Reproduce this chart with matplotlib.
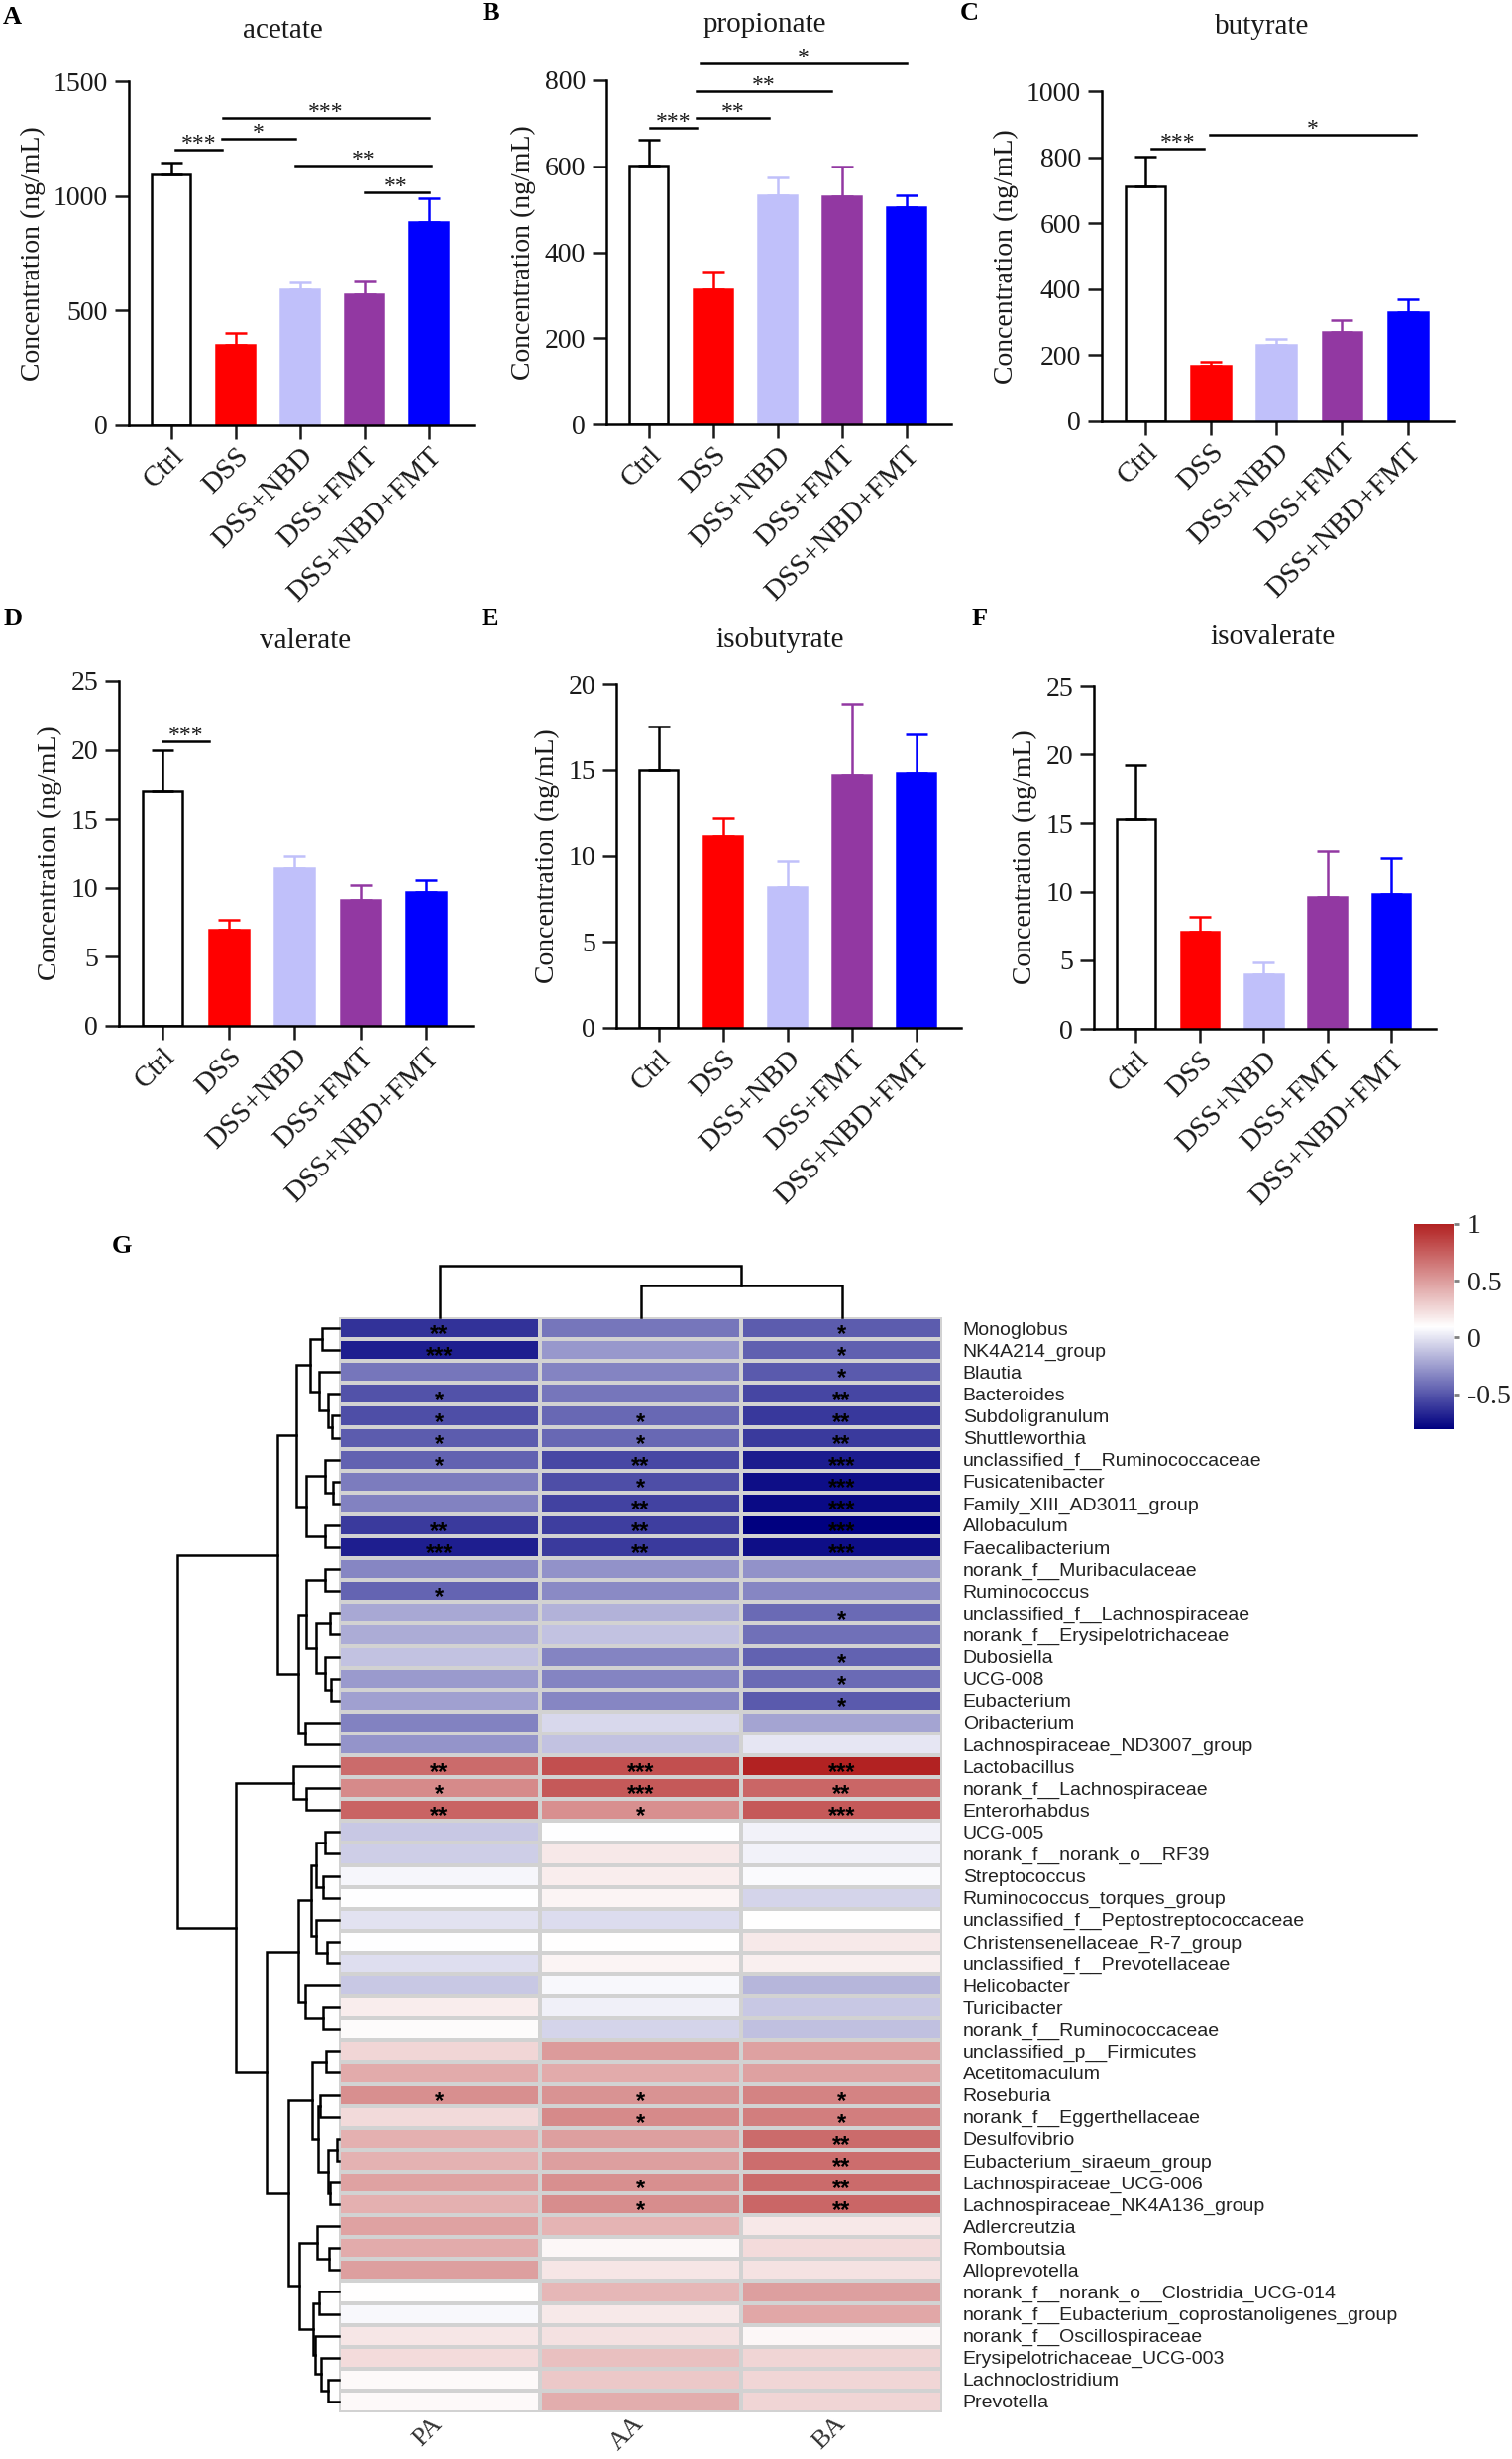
import numpy as np
import matplotlib
matplotlib.use("Agg")
from matplotlib import pyplot as plt
from matplotlib.colors import LinearSegmentedColormap, Normalize
from matplotlib.cm import ScalarMappable

plt.rcParams["font.family"] = ["Liberation Serif", "DejaVu Serif"]
INK = "#1a1a1a"

# ---- bar chart data ---------------------------------------------------------
GROUPS = ["Ctrl", "DSS", "DSS+NBD", "DSS+FMT", "DSS+NBD+FMT"]
BAR_FACE = ["white", "#FF0000", "#C0C0FA", "#9238A2", "#0000FF"]
BAR_EDGE = ["black", "#FF0000", "#C0C0FA", "#9238A2", "#0000FF"]

acetate_mean = [1095, 351, 592, 572, 887]
acetate_sem = [52, 50, 30, 56, 104]
propionate_mean = [602, 314, 532, 530, 506]
propionate_sem = [59, 42, 41, 70, 26]
butyrate_mean = [713, 167, 230, 270, 330]
butyrate_sem = [90, 13, 18, 36, 40]
valerate_mean = [17.0, 6.95, 11.4, 9.15, 9.7]
valerate_sem = [3.0, 0.77, 0.9, 1.02, 0.88]
isobutyrate_mean = [15.0, 11.2, 8.2, 14.7, 14.8]
isobutyrate_sem = [2.5, 1.0, 1.5, 4.15, 2.25]
isovalerate_mean = [15.3, 7.1, 4.0, 9.6, 9.8]
isovalerate_sem = [3.9, 1.1, 0.85, 3.35, 2.6]

# significance brackets: (from, to, height, stars)
acetate_sig = [(0.07, 0.79, 1202, "***"), (0.79, 1.93, 1248, "*"),
               (0.81, 4.0, 1341, "***"), (1.93, 4.04, 1132, "**"),
               (3.0, 4.0, 1018, "**")]
propionate_sig = [(0.01, 0.74, 689, "***"), (0.74, 1.87, 713, "**"),
                  (0.74, 2.84, 775, "**"), (0.80, 4.01, 840, "*")]
butyrate_sig = [(0.10, 0.90, 825, "***"), (0.99, 4.12, 867, "*")]
valerate_sig = [(0.0, 0.71, 20.65, "***")]

# ---- heatmap data -----------------------------------------------------------
GENERA = ["Monoglobus", "NK4A214_group", "Blautia", "Bacteroides", "Subdoligranulum",
          "Shuttleworthia", "unclassified_f__Ruminococcaceae", "Fusicatenibacter",
          "Family_XIII_AD3011_group", "Allobaculum", "Faecalibacterium",
          "norank_f__Muribaculaceae", "Ruminococcus", "unclassified_f__Lachnospiraceae",
          "norank_f__Erysipelotrichaceae", "Dubosiella", "UCG-008", "Eubacterium",
          "Oribacterium", "Lachnospiraceae_ND3007_group", "Lactobacillus",
          "norank_f__Lachnospiraceae", "Enterorhabdus", "UCG-005", "norank_f__norank_o__RF39",
          "Streptococcus", "Ruminococcus_torques_group", "unclassified_f__Peptostreptococcaceae",
          "Christensenellaceae_R-7_group", "unclassified_f__Prevotellaceae", "Helicobacter",
          "Turicibacter", "norank_f__Ruminococcaceae", "unclassified_p__Firmicutes",
          "Acetitomaculum", "Roseburia", "norank_f__Eggerthellaceae", "Desulfovibrio",
          "Eubacterium_siraeum_group", "Lachnospiraceae_UCG-006",
          "Lachnospiraceae_NK4A136_group", "Adlercreutzia", "Romboutsia", "Alloprevotella",
          "norank_f__norank_o__Clostridia_UCG-014",
          "norank_f__Eubacterium_coprostanoligenes_group", "norank_f__Oscillospiraceae",
          "Erysipelotrichaceae_UCG-003", "Lachnoclostridium", "Prevotella"]
ACIDS = ["PA", "AA", "BA"]

corr_PA = [-0.63, -0.70, -0.39, -0.52, -0.53, -0.48, -0.46, -0.37, -0.35, -0.60,
           -0.70, -0.33, -0.45, -0.21, -0.20, -0.12, -0.26, -0.24, -0.35, -0.28,
           0.70, 0.575, 0.73,
           -0.10, -0.08, 0.06, 0.09, -0.01, 0.09, -0.02, -0.10, 0.17, 0.11,
           0.26, 0.44, 0.55, 0.25, 0.42, 0.41, 0.47, 0.42, 0.47, 0.44, 0.49,
           0.095, 0.07, 0.20, 0.24, 0.12, 0.12]
corr_AA = [-0.39, -0.27, -0.34, -0.39, -0.44, -0.44, -0.55, -0.53, -0.57, -0.59,
           -0.60, -0.29, -0.32, -0.18, -0.12, -0.34, -0.34, -0.33, -0.04, -0.12,
           0.81, 0.77, 0.55,
           0.09, 0.19, 0.17, 0.14, -0.03, 0.10, 0.14, 0.07, 0.04, -0.06,
           0.50, 0.44, 0.54, 0.57, 0.49, 0.49, 0.55, 0.56, 0.40, 0.13, 0.20,
           0.39, 0.18, 0.22, 0.35, 0.32, 0.43]
corr_BA = [-0.48, -0.47, -0.49, -0.56, -0.61, -0.60, -0.71, -0.76, -0.77, -0.81,
           -0.76, -0.29, -0.33, -0.43, -0.41, -0.46, -0.43, -0.49, -0.23, 0.01,
           1.0, 0.72, 0.77,
           0.05, 0.05, 0.08, -0.06, 0.095, 0.18, 0.16, -0.16, -0.10, -0.13,
           0.48, 0.48, 0.60, 0.62, 0.70, 0.69, 0.70, 0.72, 0.19, 0.24, 0.21,
           0.49, 0.45, 0.13, 0.27, 0.26, 0.27]

# significance marks (row index -> stars)
sig_PA = {0: "**", 1: "***", 3: "*", 4: "*", 5: "*", 6: "*", 9: "**", 10: "***",
          12: "*", 20: "**", 21: "*", 22: "**", 35: "*"}
sig_AA = {4: "*", 5: "*", 6: "**", 7: "*", 8: "**", 9: "**", 10: "**",
          20: "***", 21: "***", 22: "*", 35: "*", 36: "*", 39: "*", 40: "*"}
sig_BA = {0: "*", 1: "*", 2: "*", 3: "**", 4: "**", 5: "**", 6: "***", 7: "***",
          8: "***", 9: "***", 10: "***", 13: "*", 15: "*", 16: "*", 17: "*",
          20: "***", 21: "**", 22: "***", 35: "*", 36: "*", 37: "**", 38: "**",
          39: "**", 40: "**"}

# clustering trees: (height, left, right)
ROW_TREE = (1.0,
            (0.383,
             (0.265,
              (0.18, (0.105, 0, 1), (0.123, 2, (0.068, 3, (0.043, 4, 5)))),
              (0.204, (0.086, 6, (0.037, 7, 8)), (0.086, 9, 10))),
             (0.25,
              (0.2, (0.086, 11, 12),
               (0.142, (0.056, 13, 14), (0.086, 15, (0.05, 16, 17)))),
              (0.21, 18, 19))),
            (0.64,
             (0.28, 20, (0.2, 21, 22)),
             (0.45,
              (0.25,
               (0.17, (0.14, (0.086, 23, 24), (0.1, 25, 26)),
                (0.14, 27, (0.074, 28, 29))),
               (0.21, 30, (0.1, 31, 32))),
              (0.315,
               (0.166, (0.08, 33, 34),
                (0.13, (0.117, 35, 36), (0.068, (0.012, 37, 38), (0.056, 39, 40)))),
               (0.247, (0.136, 41, (0.062, 42, 43)),
                (0.16, (0.123, 44, 45),
                 (0.148, 46, (0.11, 47, (0.068, 48, 49)))))))))
COL_TREE = (1.0, 0, (0.615, 1, 2))

# ---- figure -----------------------------------------------------------------
W, H = 1526, 2481
fig = plt.figure(figsize=(W / 100, H / 100), dpi=100)


def axes_px(x0, y0, x1, y1):
    return fig.add_axes([x0 / W, 1 - y1 / H, (x1 - x0) / W, (y1 - y0) / H])


def bar_panel(box, means, sems, ymax, ystep, brackets, title, tpos, letter, lpos):
    ax = axes_px(*box)
    x = np.arange(len(GROUPS))
    ax.bar(x, means, width=0.6, color=BAR_FACE, edgecolor=BAR_EDGE,
           linewidth=1.8, zorder=2)
    for i in x:
        ax.errorbar(i, means[i], yerr=[[0], [sems[i]]], fmt="none",
                    ecolor=BAR_EDGE[i], elinewidth=1.8, capsize=8,
                    capthick=1.8, zorder=3)
    for x0, x1, y, s in brackets:
        ax.plot([x0, x1], [y, y], color="black", lw=1.8, clip_on=False)
        ax.annotate(s, ((x0 + x1) / 2, y), xytext=(0, 0),
                    textcoords="offset points", ha="center", va="baseline",
                    fontsize=17, color=INK, annotation_clip=False)
    ax.set_xlim(-0.66, 4.7)
    ax.set_ylim(0, ymax)
    ax.set_yticks(np.arange(0, ymax + ystep / 2, ystep))
    ax.set_xticks(x)
    ax.set_xticklabels(GROUPS, rotation=45, ha="right", va="top",
                       rotation_mode="anchor", fontsize=21)
    for sp in ("top", "right"):
        ax.spines[sp].set_visible(False)
    for sp in ("left", "bottom"):
        ax.spines[sp].set_linewidth(1.8)
    ax.tick_params(axis="both", width=1.8, length=10, colors=INK)
    ax.tick_params(axis="y", pad=5, labelsize=20)
    ax.tick_params(axis="x", pad=3)
    ax.set_ylabel("Concentration (ng/mL)", fontsize=20, color=INK, labelpad=6)
    fig.text(tpos[0] / W, 1 - tpos[1] / H, title, fontsize=21, color=INK,
             ha="center", va="center")
    fig.text(lpos[0] / W, 1 - lpos[1] / H, letter, fontsize=19, color="black",
             fontweight="bold", ha="center", va="center")
    return ax


bar_panel((130, 82, 478, 429), acetate_mean, acetate_sem, 1500, 500, acetate_sig,
          "acetate", (285, 31), "A", (12, 17))
bar_panel((612, 81, 960, 428), propionate_mean, propionate_sem, 800, 200,
          propionate_sig, "propionate", (772, 25), "B", (495, 14))
bar_panel((1112, 92, 1467, 425), butyrate_mean, butyrate_sem, 1000, 200,
          butyrate_sig, "butyrate", (1274, 27), "C", (978, 13))
bar_panel((120, 687, 477, 1035), valerate_mean, valerate_sem, 25, 5, valerate_sig,
          "valerate", (308, 647), "D", (13, 624))
bar_panel((622, 690, 970, 1037), isobutyrate_mean, isobutyrate_sem, 20, 5, [],
          "isobutyrate", (787, 646), "E", (494, 624))
bar_panel((1104, 692, 1449, 1038), isovalerate_mean, isovalerate_sem, 25, 5, [],
          "isovalerate", (1285, 643), "F", (989, 624))

# ---- heatmap ----------------------------------------------------------------
cmap = LinearSegmentedColormap.from_list("nwf", ["#000080", "white", "#B22222"])
norm = Normalize(vmin=-0.81, vmax=1.0)
values = np.column_stack([corr_PA, corr_AA, corr_BA])
n_rows = len(GENERA)

axh = axes_px(342, 1329, 951, 2434)
axh.pcolormesh(values, cmap=cmap, norm=norm, edgecolors="#D2D2D2", linewidth=1.5)
axh.set_xlim(0, 3)
axh.set_ylim(n_rows, 0)
for j, sig in enumerate([sig_PA, sig_AA, sig_BA]):
    for i, s in sig.items():
        axh.annotate(s, (j + 0.5, i + 0.5), xytext=(0, -9.5),
                     textcoords="offset points", ha="center", va="baseline",
                     fontsize=17, fontweight="bold", color="black",
                     family=["Liberation Sans", "DejaVu Sans"])
axh.yaxis.tick_right()
axh.set_yticks(np.arange(n_rows) + 0.5)
axh.set_yticklabels(GENERA, fontsize=14, color="#222222",
                    family=["Liberation Sans", "DejaVu Sans"])
axh.set_xticks(np.arange(3) + 0.5)
axh.set_xticklabels(ACIDS, rotation=45, ha="right", va="center",
                    rotation_mode="anchor", fontsize=19, color="#333333")
axh.tick_params(axis="y", length=0, pad=15)
axh.tick_params(axis="x", length=0, pad=6)
for sp in axh.spines.values():
    sp.set_visible(False)


def draw_tree(ax, node, side):
    if isinstance(node, int):
        return node + 0.5, 0.0
    h, a, b = node
    pa, ha_ = draw_tree(ax, a, side)
    pb, hb = draw_tree(ax, b, side)
    if side == "left":
        ax.plot([ha_, h, h, hb], [pa, pa, pb, pb], color="black", lw=1.8,
                clip_on=False, solid_joinstyle="miter")
    else:
        ax.plot([pa, pa, pb, pb], [ha_, h, h, hb], color="black", lw=1.8,
                clip_on=False, solid_joinstyle="miter")
    return (pa + pb) / 2, h


axl = axes_px(179, 1329, 342, 2434)
draw_tree(axl, ROW_TREE, "left")
axl.set_xlim(1.0, 0.0)
axl.set_ylim(n_rows, 0)
axl.axis("off")

axt = axes_px(342, 1277, 951, 1329)
draw_tree(axt, COL_TREE, "top")
axt.set_xlim(0, 3)
axt.set_ylim(0, 1.0)
axt.axis("off")

fig.text(123 / W, 1 - 1258 / H, "G", fontsize=19, fontweight="bold",
         ha="center", va="center")

# colour bar
axc = axes_px(1427, 1235, 1467, 1442)
cb = fig.colorbar(ScalarMappable(norm=norm, cmap=cmap), cax=axc,
                  ticks=[-0.5, 0, 0.5, 1])
cb.outline.set_visible(False)
cb.ax.set_yticklabels(["-0.5", "0", "0.5", "1"])
cb.ax.tick_params(length=4, width=2, color="#808080", labelsize=20,
                  labelcolor="#222222", pad=6)

fig.savefig("out.png", dpi=100, facecolor="white")
